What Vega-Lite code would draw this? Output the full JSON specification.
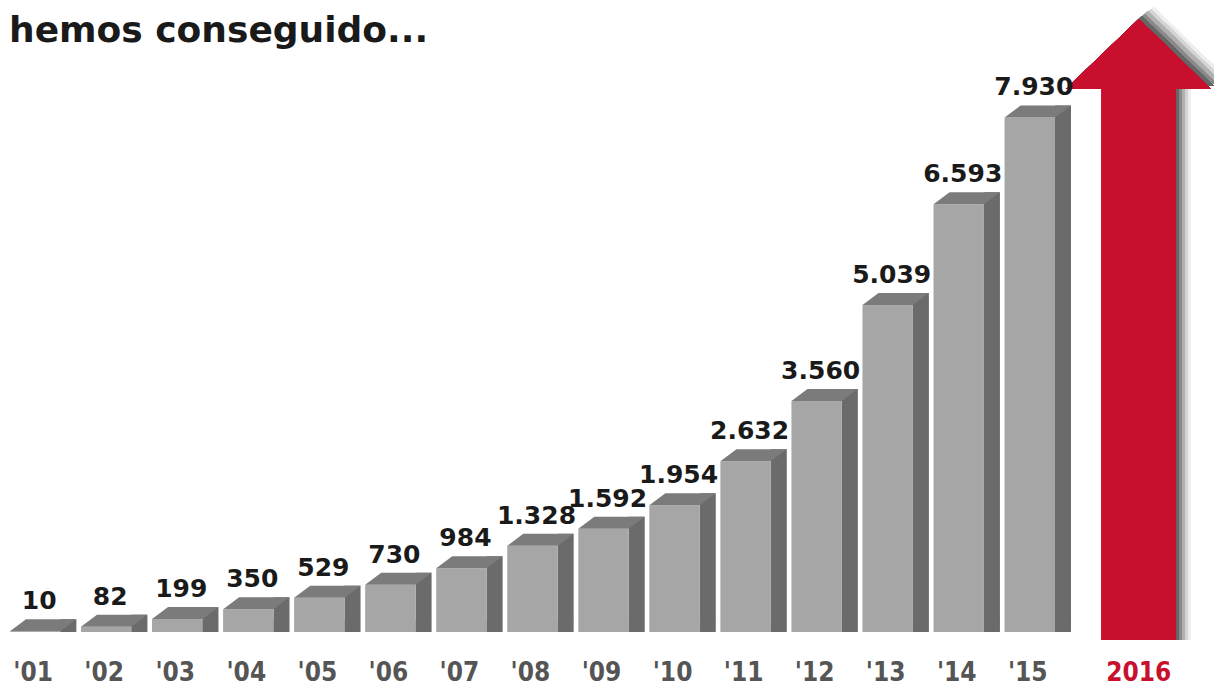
{
  "$schema": "https://vega.github.io/schema/vega-lite/v6.json",
  "width": 1136,
  "height": 545,
  "autosize": "none",
  "padding": {"left": 0, "top": 87, "right": 78, "bottom": 53},
  "background": "white",
  "config": {"view": {"stroke": null}},
  "title": {
    "text": "hemos conseguido...",
    "anchor": "start",
    "frame": "group",
    "font": "DejaVu Sans",
    "fontSize": 36,
    "fontWeight": "bold",
    "color": "#1a1a1a",
    "baseline": "alphabetic",
    "offset": -71,
    "dx": 9
  },
  "data": {
    "values": [
      {"year": "'01", "value": 10, "label": "10"},
      {"year": "'02", "value": 82, "label": "82"},
      {"year": "'03", "value": 199, "label": "199"},
      {"year": "'04", "value": 350, "label": "350"},
      {"year": "'05", "value": 529, "label": "529"},
      {"year": "'06", "value": 730, "label": "730"},
      {"year": "'07", "value": 984, "label": "984"},
      {"year": "'08", "value": 1328, "label": "1.328"},
      {"year": "'09", "value": 1592, "label": "1.592"},
      {"year": "'10", "value": 1954, "label": "1.954"},
      {"year": "'11", "value": 2632, "label": "2.632"},
      {"year": "'12", "value": 3560, "label": "3.560"},
      {"year": "'13", "value": 5039, "label": "5.039"},
      {"year": "'14", "value": 6593, "label": "6.593"},
      {"year": "'15", "value": 7930, "label": "7.930"}
    ]
  },
  "encoding": {
    "x": {
      "field": "year",
      "type": "nominal",
      "sort": null,
      "scale": {
        "domain": ["'01", "'02", "'03", "'04", "'05", "'06", "'07", "'08", "'09", "'10", "'11", "'12", "'13", "'14", "'15", "2016"],
        "paddingInner": 0.29,
        "paddingOuter": 0.14
      },
      "axis": {
        "title": null,
        "domain": false,
        "ticks": false,
        "grid": false,
        "labelAngle": 0,
        "labelFont": "DejaVu Sans Condensed, Liberation Sans Narrow, DejaVu Sans",
        "labelFontSize": 26,
        "labelFontWeight": "bold",
        "labelColor": {"condition": {"test": "datum.value === '2016'", "value": "#c8102e"}, "value": "#555555"},
        "labelOffset": {"condition": {"test": "datum.value === '2016'", "value": 38}, "value": -2},
        "labelPadding": 48,
        "labelBaseline": "alphabetic"
      }
    },
    "y": {
      "field": "value",
      "type": "quantitative",
      "scale": {"domain": [0, 8400], "nice": false},
      "axis": null
    }
  },
  "layer": [
    {"mark": {"type": "bar", "width": 74, "xOffset": 53, "yOffset": -12, "color": "#eeeeee"},
     "encoding": {"x": {"datum": "2016", "type": "nominal"}, "y": {"datum": 8369, "type": "quantitative"}, "y2": {"datum": -123}}},
    {"mark": {"type": "point", "shape": "M-73,0L72,0L0,-70Z", "size": 4, "filled": true, "opacity": 1, "strokeWidth": 0, "color": "#eeeeee", "xOffset": 53, "yOffset": -12},
     "encoding": {"x": {"datum": "2016", "type": "nominal"}, "y": {"datum": 8369, "type": "quantitative"}}},
    {"mark": {"type": "bar", "width": 74, "xOffset": 50, "yOffset": -10, "color": "#d4d4d4"},
     "encoding": {"x": {"datum": "2016", "type": "nominal"}, "y": {"datum": 8369, "type": "quantitative"}, "y2": {"datum": -123}}},
    {"mark": {"type": "point", "shape": "M-73,0L72,0L0,-70Z", "size": 4, "filled": true, "opacity": 1, "strokeWidth": 0, "color": "#d4d4d4", "xOffset": 50, "yOffset": -10},
     "encoding": {"x": {"datum": "2016", "type": "nominal"}, "y": {"datum": 8369, "type": "quantitative"}}},
    {"mark": {"type": "bar", "width": 74, "xOffset": 47, "yOffset": -8, "color": "#b0b0b0"},
     "encoding": {"x": {"datum": "2016", "type": "nominal"}, "y": {"datum": 8369, "type": "quantitative"}, "y2": {"datum": -123}}},
    {"mark": {"type": "point", "shape": "M-73,0L72,0L0,-70Z", "size": 4, "filled": true, "opacity": 1, "strokeWidth": 0, "color": "#b0b0b0", "xOffset": 47, "yOffset": -8},
     "encoding": {"x": {"datum": "2016", "type": "nominal"}, "y": {"datum": 8369, "type": "quantitative"}}},
    {"mark": {"type": "bar", "width": 74, "xOffset": 44, "yOffset": -5, "color": "#8a8a8a"},
     "encoding": {"x": {"datum": "2016", "type": "nominal"}, "y": {"datum": 8369, "type": "quantitative"}, "y2": {"datum": -123}}},
    {"mark": {"type": "point", "shape": "M-73,0L72,0L0,-70Z", "size": 4, "filled": true, "opacity": 1, "strokeWidth": 0, "color": "#8a8a8a", "xOffset": 44, "yOffset": -5},
     "encoding": {"x": {"datum": "2016", "type": "nominal"}, "y": {"datum": 8369, "type": "quantitative"}}},
    {"mark": {"type": "bar", "width": 74, "xOffset": 41, "yOffset": -3, "color": "#666666"},
     "encoding": {"x": {"datum": "2016", "type": "nominal"}, "y": {"datum": 8369, "type": "quantitative"}, "y2": {"datum": -123}}},
    {"mark": {"type": "point", "shape": "M-73,0L72,0L0,-70Z", "size": 4, "filled": true, "opacity": 1, "strokeWidth": 0, "color": "#666666", "xOffset": 41, "yOffset": -3},
     "encoding": {"x": {"datum": "2016", "type": "nominal"}, "y": {"datum": 8369, "type": "quantitative"}}},
    {"mark": {"type": "bar", "width": 74, "xOffset": 38, "color": "#c8102e"},
     "encoding": {"x": {"datum": "2016", "type": "nominal"}, "y": {"datum": 8369, "type": "quantitative"}, "y2": {"datum": -123}}},
    {"mark": {"type": "point", "shape": "M-73,0L72,0L0,-70Z", "size": 4, "filled": true, "opacity": 1, "strokeWidth": 0, "color": "#c8102e", "xOffset": 38},
     "encoding": {"x": {"datum": "2016", "type": "nominal"}, "y": {"datum": 8369, "type": "quantitative"}}},
    {"mark": {"type": "bar", "width": 16, "xOffset": 33.2, "yOffset": -12, "color": "#6b6b6b"},
     "encoding": {"y2": {"datum": 0}}},
    {"mark": {"type": "point", "shape": "M25.2,0L25.2,-12L41.2,-12Z", "size": 4, "filled": true, "opacity": 1, "strokeWidth": 0, "color": "#6b6b6b"},
     "encoding": {"y": {"datum": 0, "type": "quantitative"}}},
    {"mark": {"type": "bar", "color": "#a6a6a6"},
     "encoding": {"y2": {"datum": 0}}},
    {"mark": {"type": "point", "shape": "M-25.2,0L25.2,0L41.2,-12L-9.2,-12Z", "size": 4, "filled": true, "opacity": 1, "strokeWidth": 0, "color": "#7b7b7b"}},
    {"mark": {"type": "text", "font": "DejaVu Sans", "fontSize": 25, "fontWeight": "bold", "color": "#1a1a1a", "baseline": "alphabetic", "dx": 4, "dy": -22},
     "encoding": {"text": {"field": "label"}}}
  ]
}
